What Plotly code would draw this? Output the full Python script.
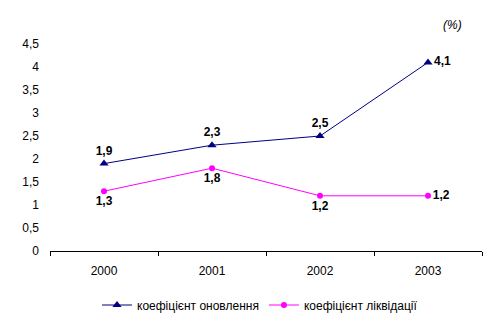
import plotly.graph_objects as go

years = ["2000", "2001", "2002", "2003"]
renewal = [1.9, 2.3, 2.5, 4.1]
liquidation = [1.3, 1.8, 1.2, 1.2]
renewal_labels = ["1,9", "2,3", "2,5", "4,1"]
liquidation_labels = ["1,3", "1,8", "1,2", "1,2"]
renewal_pos = ["top center", "top center", "top center", "middle right"]
liquidation_pos = ["bottom center", "bottom center", "bottom center", "middle right"]
ytick_vals = [0, 0.5, 1, 1.5, 2, 2.5, 3, 3.5, 4, 4.5]
ytick_text = ["0", "0,5", "1", "1,5", "2", "2,5", "3", "3,5", "4", "4,5"]

font_family = "Liberation Sans, Arial, sans-serif"

fig = go.Figure()
fig.add_trace(go.Scatter(
    x=years, y=renewal, mode="lines+markers+text",
    name="коефіцієнт оновлення",
    line=dict(color="#000080", width=1),
    marker=dict(symbol="triangle-up", size=8, color="#000080"),
    text=renewal_labels, textposition=renewal_pos,
    textfont=dict(family=font_family, size=12, color="black", weight="bold"),
))
fig.add_trace(go.Scatter(
    x=years, y=liquidation, mode="lines+markers+text",
    name="коефіцієнт ліквідації",
    line=dict(color="#FF00FF", width=1),
    marker=dict(symbol="circle", size=6, color="#FF00FF"),
    text=liquidation_labels, textposition=liquidation_pos,
    textfont=dict(family=font_family, size=12, color="black", weight="bold"),
))

fig.add_annotation(text="<i>(%)</i>", xref="x domain", yref="y domain",
                   x=(452 - 50) / 432, y=1 + (44 - 25) / 207,
                   showarrow=False, xanchor="center", yanchor="middle",
                   font=dict(family=font_family, size=12, color="black"))

fig.update_layout(
    width=494, height=323,
    margin=dict(l=50, r=12, t=44, b=72, autoexpand=False),
    paper_bgcolor="white", plot_bgcolor="white",
    font=dict(family=font_family, size=12, color="black"),
    showlegend=True,
    legend=dict(orientation="h", xref="container", yref="container",
                x=260 / 494, xanchor="center", y=18 / 323, yanchor="middle",
                font=dict(family=font_family, size=12, color="black"),
                itemwidth=30, tracegroupgap=0),
    xaxis=dict(type="category", tickson="boundaries", ticks="outside", ticklen=4,
               tickcolor="black", showline=True, linecolor="black", linewidth=1,
               showgrid=False, zeroline=False, range=[-0.5, 3.5],
               ticklabelstandoff=9,
               tickfont=dict(family=font_family, size=12, color="black")),
    yaxis=dict(range=[0, 4.5], tickvals=ytick_vals, ticktext=ytick_text,
               showline=False, showgrid=False, zeroline=False, ticks="",
               ticklabelstandoff=10,
               tickfont=dict(family=font_family, size=12, color="black")),
)

fig.write_html("out.html")
